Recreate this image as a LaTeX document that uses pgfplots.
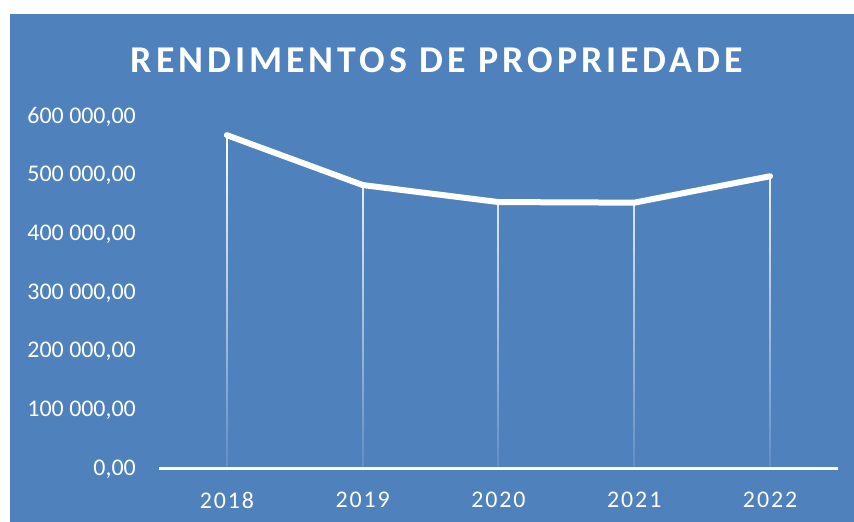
\documentclass[border=0pt]{standalone}
\usepackage{fontspec}
\setmainfont{Carlito}
\usepackage{pgfplots}
\pgfplotsset{compat=1.18}
\usetikzlibrary{fadings}
\definecolor{bgblue}{RGB}{79,129,189}
\tikzfading[name=dropfade, top color=transparent!0, middle color=transparent!15, bottom color=transparent!90]

\begin{document}
\begin{tikzpicture}
\fill[white] (0bp,0bp) rectangle (854bp,522bp);
\fill[bgblue] (9.5bp,0bp) rectangle (854bp,508bp);
\begin{axis}[
  at={(159bp,53bp)}, anchor=south west,
  scale only axis, width=679bp, height=352bp,
  xmin=-0.5, xmax=4.5, ymin=0, ymax=600000,
  axis x line*=bottom, axis y line*=left,
  x axis line style={white, line width=3bp, -},
  y axis line style={draw=none},
  xtick={0,1,2,3,4},
  xticklabels={2018,2019,2020,2021,2022},
  ytick={0,100000,200000,300000,400000,500000,600000},
  yticklabels={{0,00},{100 000,00},{200 000,00},{300 000,00},{400 000,00},{500 000,00},{600 000,00}},
  major tick length=0pt,
  scaled y ticks=false,
  tick label style={text=white, inner sep=0pt},
  yticklabel style={anchor=east, xshift=-23bp, font=\fontsize{24}{26}\selectfont},
  xticklabel style={anchor=north, yshift=-23bp, font=\fontsize{24}{26}\selectfont\addfontfeatures{LetterSpace=8}},
  clip=false,
]
% drop lines from each point to the axis
\addplot[ycomb, white, line width=2bp, path fading=dropfade] coordinates {
(0,569000) (1,484000) (2,455000) (3,454000) (4,499000)
};
\addplot[white, line width=6bp, line cap=round, line join=round] coordinates {
(0,569000) (1,484000) (2,455000) (3,454000) (4,499000)
};
\end{axis}
\node[text=white, font=\fontsize{38}{40}\selectfont\bfseries\addfontfeatures{LetterSpace=10.5}]
  at (437bp,461.5bp) {RENDIMENTOS DE PROPRIEDADE};
\end{tikzpicture}
\end{document}
